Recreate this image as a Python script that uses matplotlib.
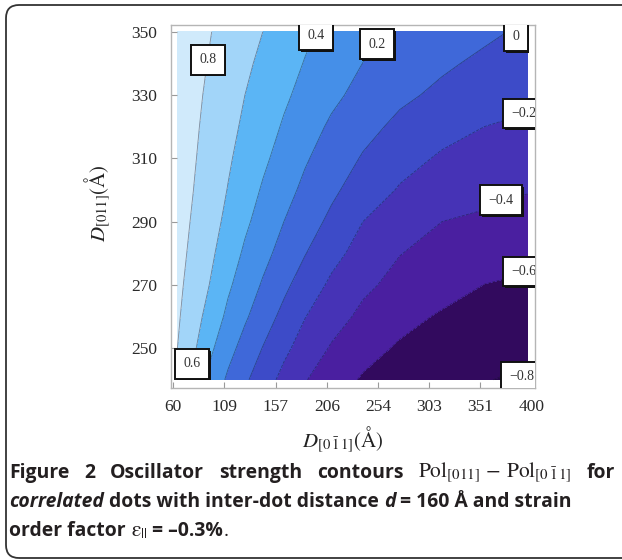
import numpy as np
import matplotlib
matplotlib.use("Agg")
import matplotlib.pyplot as plt
from matplotlib.colors import ListedColormap, BoundaryNorm
from matplotlib.patches import FancyBboxPatch
from matplotlib.transforms import IdentityTransform
import matplotlib.patheffects as pe

plt.rcParams["mathtext.fontset"] = "stix"

W, H, DPI = 622, 560, 100

# ---- data ---------------------------------------------------------------
# dot sizes along [0-11] (columns) and [011] (rows), in Angstrom
d_0m11 = [64, 80, 96, 112, 128, 145, 165, 185, 210, 240, 275, 315, 355, 396]
d_011 = [240, 250, 260, 270, 280, 290, 300, 310, 320, 330, 340, 350]
# Pol[011] - Pol[0-11] on that grid (one row per D[011] value)
pol_diff = [
    [0.730, 0.537, 0.335, 0.167, 0.032, -0.107, -0.256, -0.388, -0.513, -0.619, -0.671, -0.732, -0.792, -0.830],
    [0.800, 0.622, 0.427, 0.267, 0.128, -0.006, -0.157, -0.282, -0.417, -0.536, -0.622, -0.669, -0.716, -0.764],
    [0.825, 0.675, 0.516, 0.357, 0.227, 0.095, -0.053, -0.194, -0.321, -0.442, -0.544, -0.620, -0.657, -0.696],
    [0.845, 0.716, 0.585, 0.431, 0.305, 0.181, 0.043, -0.090, -0.234, -0.363, -0.455, -0.530, -0.602, -0.628],
    [0.865, 0.747, 0.630, 0.499, 0.371, 0.258, 0.130, 0.008, -0.140, -0.272, -0.395, -0.460, -0.501, -0.552],
    [0.880, 0.773, 0.666, 0.554, 0.435, 0.324, 0.200, 0.092, -0.042, -0.200, -0.296, -0.400, -0.436, -0.471],
    [0.895, 0.795, 0.694, 0.593, 0.489, 0.381, 0.266, 0.159, 0.039, -0.096, -0.216, -0.290, -0.340, -0.390],
    [0.905, 0.812, 0.718, 0.624, 0.532, 0.436, 0.327, 0.220, 0.109, -0.016, -0.135, -0.223, -0.267, -0.312],
    [0.910, 0.826, 0.740, 0.653, 0.569, 0.482, 0.381, 0.283, 0.171, 0.060, -0.044, -0.138, -0.200, -0.234],
    [0.915, 0.839, 0.761, 0.680, 0.600, 0.522, 0.430, 0.345, 0.242, 0.141, 0.037, -0.039, -0.096, -0.155],
    [0.920, 0.852, 0.783, 0.709, 0.635, 0.560, 0.475, 0.391, 0.303, 0.198, 0.118, 0.028, -0.036, -0.090],
    [0.930, 0.866, 0.802, 0.736, 0.670, 0.600, 0.518, 0.435, 0.348, 0.254, 0.170, 0.101, 0.034, -0.030],
]
levels = [-1.0, -0.8, -0.6, -0.4, -0.2, 0.0, 0.2, 0.4, 0.6, 0.8, 1.0]
band_colors = ["#26064c", "#320a5e", "#4a1fa0", "#4633b6", "#3d4bc8",
               "#3f68d9", "#458fe8", "#5bb5f5", "#a2d5f9", "#d0eafb"]

x_ticks = [60, 108.57, 157.14, 205.71, 254.29, 302.86, 351.43, 400]
x_tick_labels = ["60", "109", "157", "206", "254", "303", "351", "400"]
y_ticks = [250, 270, 290, 310, 330, 350]

label_levels = [0.8, 0.6, 0.4, 0.2, 0.0, -0.2, -0.4, -0.6, -0.8]
label_x = [92.9, 78.0, 195.3, 253.7, 385.1, 392.7, 370.9, 392.7, 390.8]
label_y = [341.1, 245.0, 348.9, 346.1, 348.6, 324.2, 296.8, 274.2, 241.0]

# ---- figure -------------------------------------------------------------
fig = plt.figure(figsize=(W / DPI, H / DPI), dpi=DPI)
fig.patch.set_facecolor("white")

ax = fig.add_axes([171 / W, 1 - 388 / H, (535 - 171) / W, (388 - 24.5) / H])
X, Y = np.meshgrid(d_0m11, d_011)
Z = np.array(pol_diff)
cmap = ListedColormap(band_colors)
norm = BoundaryNorm(levels, cmap.N)
ax.contourf(X, Y, Z, levels=levels, cmap=cmap, norm=norm)
ax.contour(X, Y, Z, levels=levels[1:-1], colors="#15152a", linewidths=0.6, alpha=0.45)
ax.set_xlim(57.9, 403.2)
ax.set_ylim(237.4, 352.3)

ax.set_xticks(x_ticks, x_tick_labels)
ax.set_yticks(y_ticks, [str(v) for v in y_ticks])
ax.tick_params(direction="in", length=4, width=0.8, color="#9a9a9a",
               labelsize=12.5, labelcolor="#2a2a2a")
ax.tick_params(axis="x", pad=8)
ax.tick_params(axis="y", pad=10)
for lab in ax.get_xticklabels() + ax.get_yticklabels():
    lab.set_fontfamily("Liberation Serif")
for s in ax.spines.values():
    s.set_color("#b5b5b5")
    s.set_linewidth(1.0)

# boxed contour labels
for v, lx, ly in zip(label_levels, label_x, label_y):
    s = "0" if v == 0 else f"{v:.1f}".replace("-", "\u2212")
    t = ax.text(lx, ly, s, ha="center", va="center", fontsize=10,
                family="Liberation Serif", color="#333333", zorder=5,
                bbox=dict(boxstyle="square,pad=0.6", fc="white", ec="#111111", lw=1.4))
    t.get_bbox_patch().set_path_effects(
        [pe.SimplePatchShadow(offset=(1.2, -1.2), shadow_rgbFace="#111111", alpha=1.0),
         pe.Normal()])
    t.set_clip_path(ax.patch)
    t.set_clip_on(True)

# axis titles
fig.text(98 / W, 1 - 203 / H, r"$D_{[011]}(\mathrm{Å})$", rotation=90,
         ha="center", va="center", fontsize=15, color="#222222")
fig.text(343 / W, 1 - 440 / H, r"$D_{[0\,\bar{1}\,1]}(\mathrm{Å})$",
         ha="center", va="center", fontsize=15, color="#222222")

# rounded frame around the figure panel
border = FancyBboxPatch((6, H - 558), 640, 553,
                        boxstyle="round,pad=0,rounding_size=13",
                        transform=IdentityTransform(), fill=False,
                        ec="#333333", lw=1.3)
fig.add_artist(border)

# ---- caption ------------------------------------------------------------
fig.canvas.draw()
renderer = fig.canvas.get_renderer()


def width_of(s, **kw):
    t = fig.text(0, 0, s, **kw)
    w = t.get_window_extent(renderer).width
    t.remove()
    return w


def style(size, weight="bold", fstyle="normal"):
    return dict(family="Open Sans", weight=weight, style=fstyle,
                fontsize=size, color="#231f20")


line2 = [("correlated", "bold", "italic"), ("dots with inter-dot distance", "bold", "normal"),
         ("d", "bold", "italic"), ("= 160 Å and strain", "bold", "normal")]

# caption size chosen so the second line spans the text column
ref = 12.0
gap_ref = width_of("a a", **style(ref)) - width_of("aa", **style(ref))
w2 = sum(width_of(s, **style(ref, wt, st)) for s, wt, st in line2) + gap_ref * (len(line2) - 1)
cap = ref * 563 / w2
gap = width_of("a a", **style(cap)) - width_of("aa", **style(cap))
math_kw = dict(fontsize=cap * 1.1, color="#231f20")

x0, x1 = 9, 615
base1, base2, base3 = 478, 507, 536


def put(x, ypx, s, kw):
    t = fig.text(x / W, 1 - ypx / H, s, ha="left", va="baseline", **kw)
    return t.get_window_extent(renderer).width


# line 1: justified
line1 = [("Figure", style(cap)), ("2", style(cap)), ("Oscillator", style(cap)),
         ("strength", style(cap)), ("contours", style(cap)),
         (r"$\mathrm{Pol}_{[011]}\,-\,\mathrm{Pol}_{[0\,\bar{1}\,1]}$", math_kw),
         ("for", style(cap))]
ws = [width_of(s, **kw) for s, kw in line1]
g = (x1 - x0 - sum(ws)) / (len(line1) - 1)
x = x0
for (s, kw), w in zip(line1, ws):
    put(x, base1, s, kw)
    x += w + g

# line 2
x = x0
for s, wt, st in line2:
    x += put(x, base2, s, style(cap, wt, st)) + gap

# line 3
x = x0
x += put(x, base3, "order factor", style(cap)) + gap
x += put(x, base3, r"$\mathrm{ε}_{||}$", math_kw) + gap
x += put(x, base3, "= \u20130.3%", style(cap))
put(x, base3, ".", style(cap, "normal"))

fig.savefig("out.png", dpi=DPI, facecolor="white")
